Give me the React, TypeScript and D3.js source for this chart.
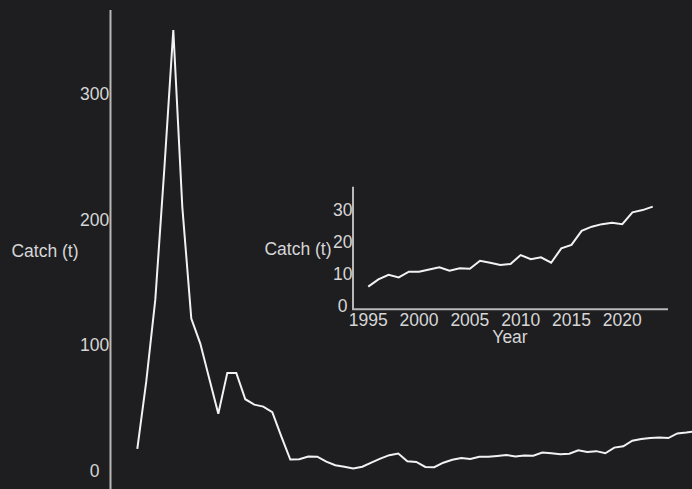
import React from "react";
import * as d3 from "d3";

const years: number[] = d3.range(1961, 2024);
const catchValues: number[] = [
  17, 71, 136, 240, 351, 210, 121, 101, 73, 45,
  77.6, 77.6, 56.6, 52.3, 50.7, 46.3, 27, 8.5, 8.8, 10.9,
  10.8, 6.8, 4.0, 2.8, 1.4, 2.8, 6.0, 9.2, 12, 13.3,
  7.2, 6.6, 2.6, 2.4, 6.0, 8.3, 9.7, 8.9, 10.7, 10.7,
  11.4, 12.1, 11.0, 11.8, 11.6, 14.1, 13.5, 12.8, 13.1, 15.9,
  14.6, 15.2, 13.5, 18.0, 19.1, 23.5, 24.8, 25.6, 26.0, 25.6,
  29.3, 30.0, 31.1,
];
const mainTicks: number[] = [0, 100, 200, 300];
const insetYTicks: number[] = [0, 10, 20, 30];
const insetXTicks: number[] = [1995, 2000, 2005, 2010, 2015, 2020];
const insetStart = 1995;
const yLabel = "Catch (t)";
const xLabel = "Year";

const W = 692;
const H = 489;
const BG = "#1e1e21";
const FONT = "'Liberation Sans', Arial, Helvetica, sans-serif";
const TEXT = "#d6d6d6";
const AXIS = "#b8b8b8";
const LINE = "#f2f2f2";

export default function App() {
  const data = years.map((y, i) => ({ year: y, value: catchValues[i] }));
  const insetData = data.filter((d) => d.year >= insetStart);

  // main chart
  const x = d3.scaleLinear().domain([1961, 2023]).range([137.3, 695.3]);
  const y = d3.scaleLinear().domain([0, 300]).range([470.2, 94]);
  const mainTop = 10;
  const line = d3
    .line<{ year: number; value: number }>()
    .x((d) => x(d.year))
    .y((d) => y(d.value));

  // inset chart
  const ix = d3.scaleLinear().domain([1993.5, 2024.5]).range([353, 668]);
  const iy = d3.scaleLinear().domain([0, 30]).range([305.8, 210.1]);
  const iBottom = 309.3;
  const iTop = 186.7;
  const iline = d3
    .line<{ year: number; value: number }>()
    .x((d) => ix(d.year))
    .y((d) => iy(d.value));

  const fs = 17.5;

  return (
    <svg
      width={W}
      height={H}
      style={{ position: "absolute", left: 0, top: 0, display: "block" }}
    >
      <rect x={0} y={0} width={W} height={H} fill={BG} />
      {/* main y axis */}
      <line x1={110.5} x2={110.5} y1={mainTop} y2={H + 5} stroke={AXIS} strokeWidth={2} />
      {mainTicks.map((t) => (
        <text
          key={t}
          x={94.7}
          y={y(t)}
          dy="0.36em"
          textAnchor="middle"
          fontFamily={FONT}
          fontSize={fs}
          fill={TEXT}
        >
          {t}
        </text>
      ))}
      <text x={45} y={256.5} textAnchor="middle" fontFamily={FONT} fontSize={fs} fill={TEXT}>
        {yLabel}
      </text>
      <path d={line(data) || ""} fill="none" stroke={LINE} strokeWidth={2} strokeLinejoin="miter" />

      {/* inset */}
      <line x1={353} x2={353} y1={iTop} y2={iBottom} stroke={AXIS} strokeWidth={2} />
      <line x1={352} x2={668} y1={iBottom} y2={iBottom} stroke={AXIS} strokeWidth={2} />
      {insetYTicks.map((t) => (
        <text
          key={t}
          x={342.7}
          y={iy(t)}
          dy="0.36em"
          textAnchor="middle"
          fontFamily={FONT}
          fontSize={fs}
          fill={TEXT}
        >
          {t}
        </text>
      ))}
      {insetXTicks.map((t) => (
        <text
          key={t}
          x={ix(t)}
          y={326}
          textAnchor="middle"
          fontFamily={FONT}
          fontSize={fs}
          fill={TEXT}
        >
          {t}
        </text>
      ))}
      <text x={298} y={254.5} textAnchor="middle" fontFamily={FONT} fontSize={fs} fill={TEXT}>
        {yLabel}
      </text>
      <text x={510} y={342.5} textAnchor="middle" fontFamily={FONT} fontSize={fs} fill={TEXT}>
        {xLabel}
      </text>
      <path d={iline(insetData) || ""} fill="none" stroke={LINE} strokeWidth={2} />
    </svg>
  );
}
